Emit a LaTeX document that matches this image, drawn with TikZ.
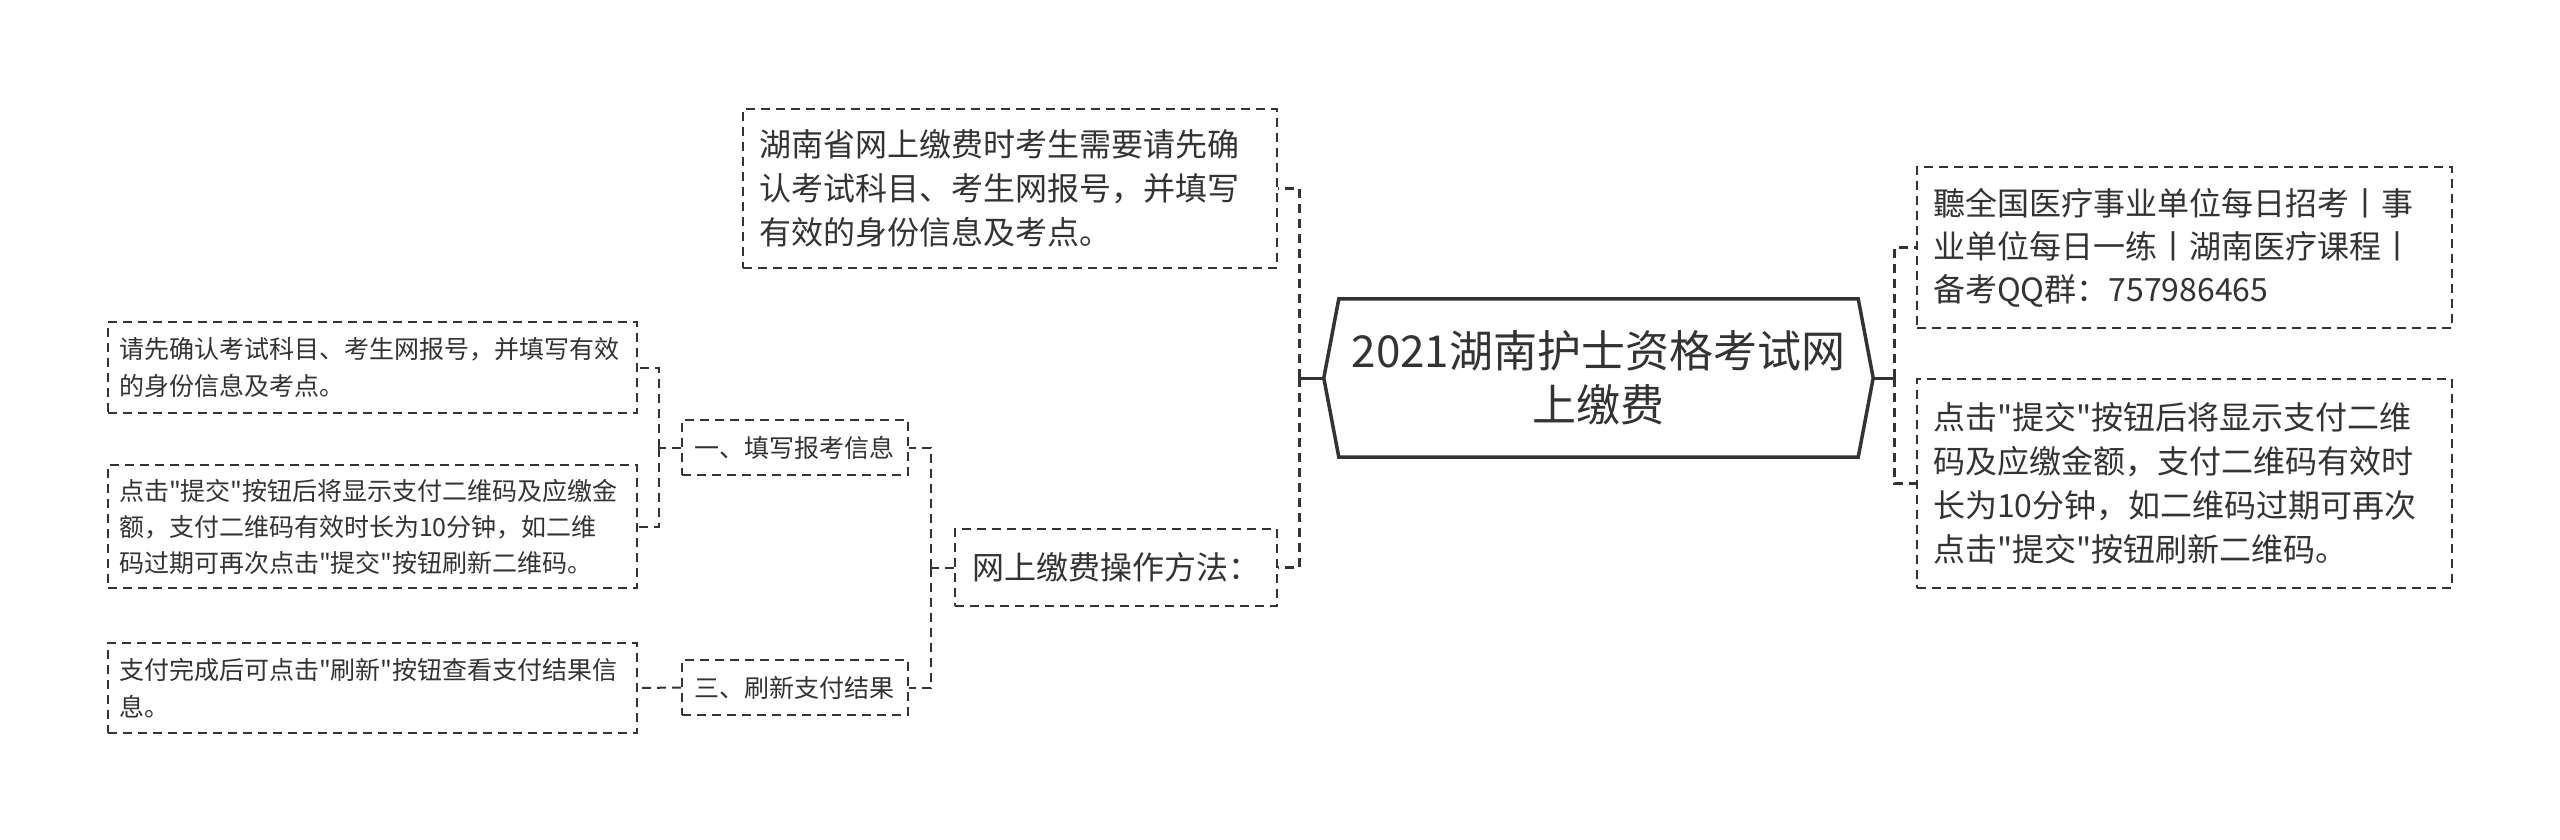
\documentclass[tikz,border=0pt]{standalone}
\usepackage{fontspec}
\setmainfont{Noto Sans CJK SC}[Ligatures=TeXOff]
\definecolor{ink}{HTML}{333333}
\newcommand\fsz[2]{\fontsize{#1}{#2}\selectfont}
\begin{document}
\begin{tikzpicture}[x=1pt,y=-1pt,
  box/.style={draw=ink, line width=2pt, dash pattern=on 9pt off 6pt, text=ink,
    align=left, inner ysep=0pt, anchor=center},
  trunk/.style={draw=ink, line width=3pt},
  trunkdash/.style={draw=ink, line width=3pt, dash pattern=on 9pt off 6pt},
  link/.style={draw=ink, line width=2pt, dash pattern=on 9pt off 6pt}
]
\useasboundingbox[fill=white] (0,0) rectangle (2560,840);

% centre
\node[font=\fsz{44}{54}, text=ink, align=center, minimum width=549pt,
  minimum height=158pt, inner sep=0pt] (C) at (1598.5,378)
  {2021湖南护士资格考试网\\上缴费};
\draw[line width=3.5pt, draw=ink, line join=miter]
  (C.west) -- ([xshift=15pt]C.north west) -- ([xshift=-15pt]C.north east)
  -- (C.east) -- ([xshift=-15pt]C.south east) -- ([xshift=15pt]C.south west) -- cycle;

% left upper boxes
\node[box, font=\fsz{32}{44}, text width=502pt, inner xsep=16pt, minimum height=159pt]
  (T) at (1010,188.5)
  {湖南省网上缴费时考生需要请先确\\认考试科目、考生网报号，并填写\\有效的身份信息及考点。};
\node[box, font=\fsz{32}{44}, text width=288pt, inner xsep=17pt, minimum height=77pt]
  (M) at (1116,567.5) {网上缴费操作方法：};

% right boxes
\node[box, font=\fsz{32}{43}, text width=503pt, inner xsep=16pt, minimum height=161pt]
  (R1) at (2184.5,247.5)
  {聽全国医疗事业单位每日招考丨事\\业单位每日一练丨湖南医疗课程丨\\备考QQ群：757986465};
\node[box, font=\fsz{32}{44}, text width=503pt, inner xsep=16pt, minimum height=209pt]
  (R2) at (2184.5,483.5)
  {点击"提交"按钮后将显示支付二维\\码及应缴金额，支付二维码有效时\\长为10分钟，如二维码过期可再次\\点击"提交"按钮刷新二维码。};

% second level
\node[box, font=\fsz{25}{37}, text width=202pt, inner xsep=12pt, minimum height=55pt]
  (B1) at (795,447.5) {一、填写报考信息};
\node[box, font=\fsz{25}{37}, text width=202pt, inner xsep=12pt, minimum height=55pt]
  (B3) at (795,687.5) {三、刷新支付结果};

% leaves
\node[box, font=\fsz{25}{37}, text width=507pt, inner xsep=11pt, minimum height=91pt]
  (L1) at (372.5,367.5)
  {请先确认考试科目、考生网报号，并填写有效\\的身份信息及考点。};
\node[box, font=\fsz{25}{36}, text width=507pt, inner xsep=11pt, minimum height=123pt]
  (L2) at (372.5,526.5)
  {点击"提交"按钮后将显示支付二维码及应缴金\\额，支付二维码有效时长为10分钟，如二维\\码过期可再次点击"提交"按钮刷新二维码。};
\node[box, font=\fsz{25}{37}, text width=507pt, inner xsep=11pt, minimum height=90pt]
  (L3) at (372.5,688)
  {支付完成后可点击"刷新"按钮查看支付结果信\\息。};

% connectors
\coordinate (CL) at ([xshift=-24pt]C.west);
\coordinate (CR) at ([xshift=21pt]C.east);
\draw[trunk] (C.west) -- (CL);
\draw[trunkdash] (CL) |- (T.east);
\draw[trunkdash] (CL) |- (M.east);
\draw[trunk] (C.east) -- (CR);
\draw[trunkdash] (CR) |- (R1.west);
\draw[trunkdash] (CR) |- (R2.west);

\coordinate (ML) at ([xshift=-23pt]M.west);
\draw[link] (M.west) -- (ML);
\draw[link] (ML) |- (B1.east);
\draw[link] (ML) |- (B3.east);

\coordinate (BL) at ([xshift=-22pt]B1.west);
\draw[link] (B1.west) -- (BL);
\draw[link] (BL) |- (L1.east);
\draw[link] (BL) |- (L2.east);
\draw[link] (B3.west) -- (L3.east);
\end{tikzpicture}
\end{document}
